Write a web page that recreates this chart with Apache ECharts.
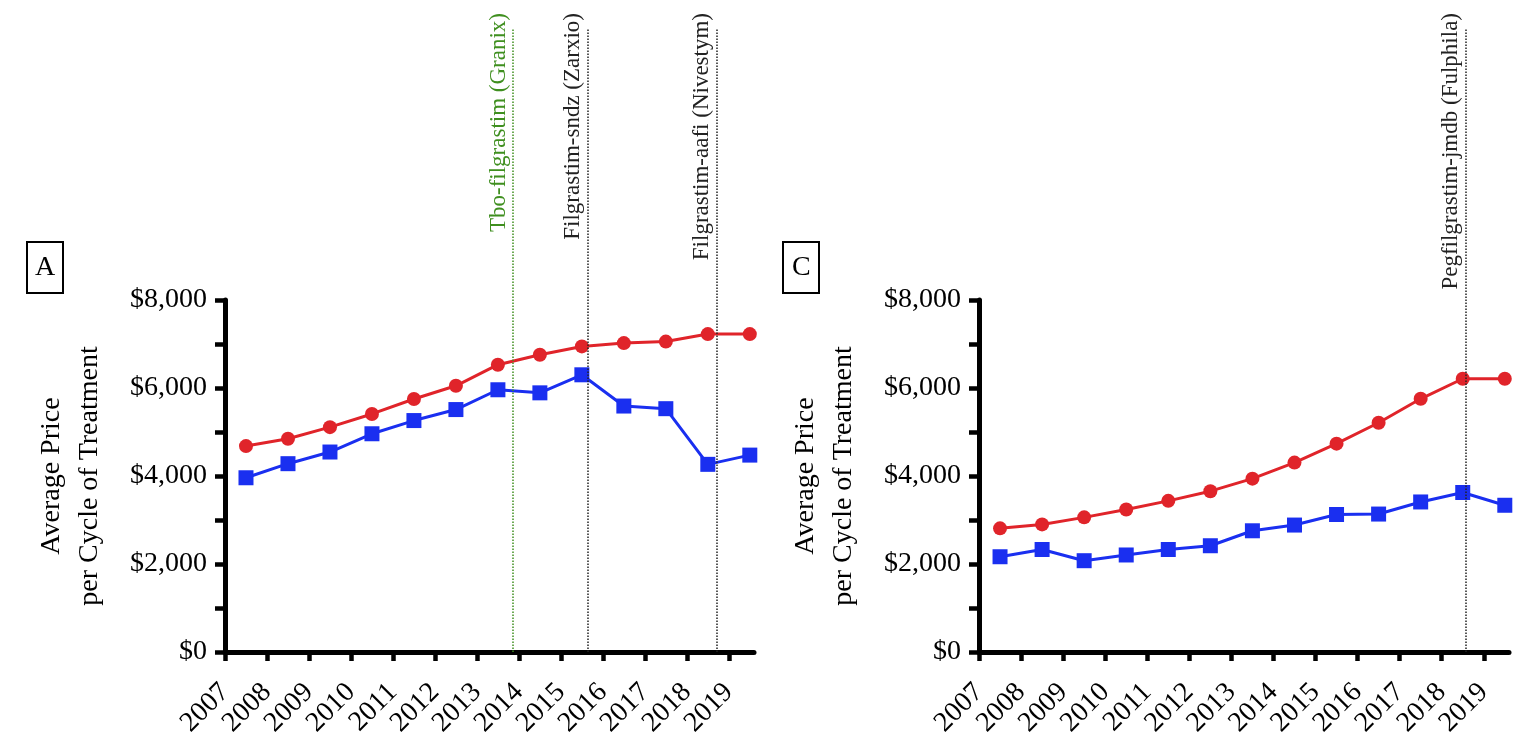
<!DOCTYPE html>
<html><head><meta charset="utf-8">
<script src="https://cdn.jsdelivr.net/npm/echarts@6/dist/echarts.min.js"></script>
<style>html,body{margin:0;padding:0;background:#fff}#c{width:1531px;height:736px}</style>
</head><body><div id="c"></div>
<script>
// ---- data ----
const years = [2007,2008,2009,2010,2011,2012,2013,2014,2015,2016,2017,2018,2019];
const tickYears = [2007,2008,2009,2010,2011,2012,2013,2014,2015,2016,2017,2018,2019];
const redA  = [4680,4845,5110,5410,5750,6050,6530,6755,6945,7020,7055,7225,7225];
const blueA = [3960,4280,4545,4960,5260,5510,5960,5890,6300,5590,5530,4265,4475];
const redC  = [2810,2900,3060,3240,3435,3655,3940,4305,4735,5210,5755,6210,6210];
const blueC = [2165,2330,2075,2205,2330,2415,2755,2885,3125,3135,3410,3625,3335];
const annotationsA = ['Tbo-filgrastim (Granix)','Filgrastim-sndz (Zarxio)','Filgrastim-aafi (Nivestym)'];
const annotationDatesA = [2013.86, 2015.64, 2018.71];
const annotationColorsA = ['#3f8f1f','#222222','#222222'];
const annotationsC = ['Pegfilgrastim-jmdb (Fulphila)'];
const annotationDatesC = [2018.57];
const annotationColorsC = ['#222222'];
const panelLabels = ['A','C'];
const yTitle = 'Average Price\nper Cycle of Treatment';

// ---- style ----
const FONT = "'Liberation Serif','DejaVu Serif',serif";
const RED = '#e0242a', BLUE = '#1a2ff0';
const X_MIN = 2007, X_MAX = 2019.6;
const panels = [
  {left: 225, width: 529, boxLeft: 27, boxPad: 8, red: redA, blue: blueA, ann: annotationsA, annX: annotationDatesA, annC: annotationColorsA},
  {left: 979, width: 530, boxLeft: 783, boxPad: 9, red: redC, blue: blueC, ann: annotationsC, annX: annotationDatesC, annC: annotationColorsC}
];
const TOP = 300, H = 352, ANN_TOP = 28;

const grid = [], xAxis = [], yAxis = [], series = [], title = [];
panels.forEach((p, i) => {
  grid.push({left: p.left, top: TOP, width: p.width, height: H, containLabel: false, outerBoundsMode: 'none'});
  xAxis.push({
    gridIndex: i, type: 'value', min: X_MIN, max: X_MAX,
    axisLine: {show: true, onZero: false, lineStyle: {color: '#000', width: 5}},
    axisTick: {show: true, length: 9, customValues: tickYears, lineStyle: {color: '#000', width: 4.5}},
    axisLabel: {customValues: tickYears, rotate: 45, margin: 36, fontSize: 28, fontFamily: FONT, color: '#000', formatter: v => String(v)},
    splitLine: {show: false}
  });
  yAxis.push({
    gridIndex: i, type: 'value', min: 0, max: 8000, interval: 2000,
    axisLine: {show: true, lineStyle: {color: '#000', width: 5}},
    axisTick: {show: true, length: 10, lineStyle: {color: '#000', width: 4.5}},
    minorTick: {show: true, splitNumber: 2, length: 10, lineStyle: {color: '#000', width: 4.5}},
    splitLine: {show: false},
    axisLabel: {margin: 18, fontSize: 28, fontFamily: FONT, color: '#000', formatter: v => '$' + v.toLocaleString('en-US')},
    name: yTitle, nameLocation: 'middle', nameGap: 116,
    nameTextStyle: {fontSize: 28, lineHeight: 38, fontFamily: FONT, color: '#000'}
  });
  series.push({
    type: 'line', xAxisIndex: i, yAxisIndex: i, name: 'Series 1',
    data: p.red.map((v, k) => [years[k] + 0.5, v]),
    symbol: 'circle', symbolSize: 14, z: 3,
    lineStyle: {color: RED, width: 3}, itemStyle: {color: RED}, animation: false
  });
  series.push({
    type: 'line', xAxisIndex: i, yAxisIndex: i, name: 'Series 2',
    data: p.blue.map((v, k) => [years[k] + 0.5, v]),
    symbol: 'rect', symbolSize: 15, z: 4,
    lineStyle: {color: BLUE, width: 3}, itemStyle: {color: BLUE}, animation: false
  });
  title.push({
    text: panelLabels[i], left: p.boxLeft, top: 242,
    borderColor: '#000', borderWidth: 2, padding: [12, p.boxPad, 11, p.boxPad],
    textStyle: {fontSize: 28, fontWeight: 'normal', fontFamily: FONT, color: '#000', lineHeight: 28}
  });
});
// annotation grids (taller, hidden axes)
panels.forEach((p, i) => {
  const gi = grid.length;
  grid.push({left: p.left, top: ANN_TOP, width: p.width, height: TOP + H - ANN_TOP, containLabel: false, outerBoundsMode: 'none'});
  xAxis.push({gridIndex: gi, type: 'value', min: X_MIN, max: X_MAX, show: false});
  yAxis.push({gridIndex: gi, type: 'value', min: 0, max: 1, show: false});
  series.push({
    type: 'line', xAxisIndex: gi, yAxisIndex: gi, data: [], silent: true,
    markLine: {
      silent: true, symbol: 'none', animation: false,
      label: {show: true, position: 'insideEndTop', distance: [-15, 3], fontSize: 23, fontFamily: FONT},
      lineStyle: {type: 'dotted', width: 1.5},
      data: p.ann.map((t, k) => ({
        xAxis: p.annX[k],
        label: {formatter: t, color: p.annC[k]},
        lineStyle: {color: p.annC[k]}
      }))
    }
  });
});

const chart = echarts.init(document.getElementById('c'), null, {renderer: 'canvas'});
chart.setOption({animation: false, backgroundColor: '#fff', title, grid, xAxis, yAxis, series});
</script></body></html>
